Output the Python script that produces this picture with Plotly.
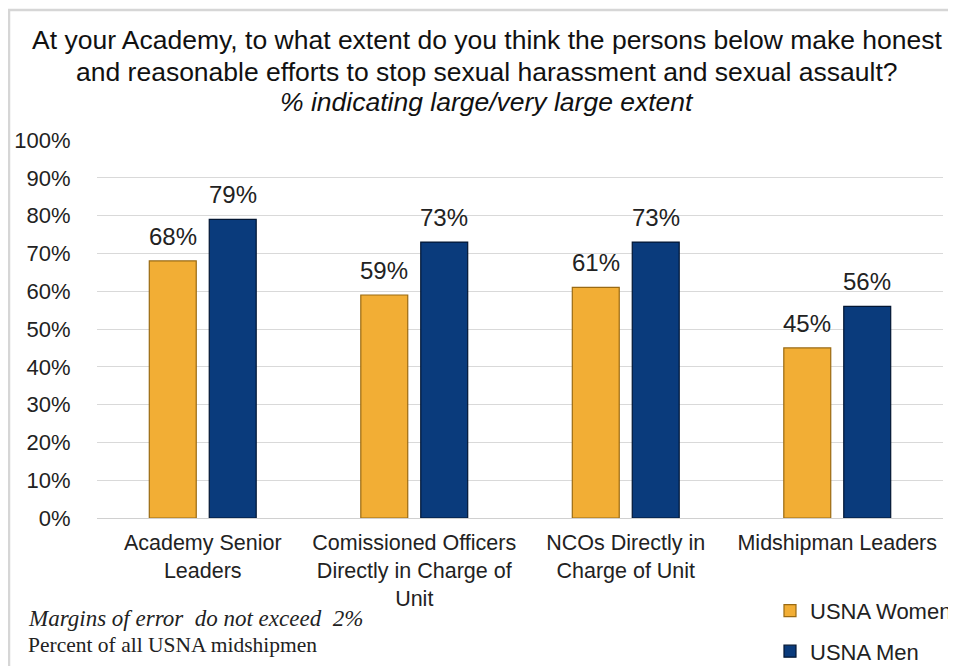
import plotly.graph_objects as go

categories = ["Academy Senior<br>Leaders",
              "Comissioned Officers<br>Directly in Charge of<br>Unit",
              "NCOs Directly in<br>Charge of Unit",
              "Midshipman Leaders"]
women = [68, 59, 61, 45]
men = [79, 73, 73, 56]
series_names = ["USNA Women", "USNA Men"]
y_ticks = list(range(0, 101, 10))
y_tick_labels = [f"{v}%" for v in y_ticks]

GOLD = "#F2AE35"
NAVY = "#0A3B7C"
FONT = "Liberation Sans"

fig = go.Figure()
fig.add_trace(go.Bar(x=categories, y=women, name=series_names[0],
                     marker=dict(color=GOLD, line=dict(color="#9A6A12", width=1.2)),
                     legendgroup="w"))
fig.add_trace(go.Bar(x=categories, y=men, name=series_names[1],
                     marker=dict(color=NAVY, line=dict(color="#021633", width=1.2)),
                     legendgroup="m"))

annotations = []
for c, v in zip(categories, women):
    annotations.append(dict(x=c, y=v, xref="x", yref="y", text=f"{v}%", showarrow=False,
                            yanchor="bottom", yshift=9, xshift=-30,
                            font=dict(size=24, color="#222222", family=FONT)))
for c, v in zip(categories, men):
    annotations.append(dict(x=c, y=v, xref="x", yref="y", text=f"{v}%", showarrow=False,
                            yanchor="bottom", yshift=9, xshift=30,
                            font=dict(size=24, color="#222222", family=FONT)))

# title
annotations += [
    dict(xref="paper", yref="paper", x=0.461, y=1.0, yshift=100, yanchor="middle",
         text="At your Academy, to what extent do you think the persons below make honest",
         showarrow=False, font=dict(size=26.5, family=FONT, color="#111111")),
    dict(xref="paper", yref="paper", x=0.461, y=1.0, yshift=68, yanchor="middle",
         text="and reasonable efforts to stop sexual harassment and sexual assault?",
         showarrow=False, font=dict(size=26.5, family=FONT, color="#111111")),
    dict(xref="paper", yref="paper", x=0.461, y=1.0, yshift=38, yanchor="middle",
         text="<i>% indicating large/very large extent</i>",
         showarrow=False, font=dict(size=26.5, family=FONT, color="#111111")),
    dict(xref="paper", yref="paper", x=0, xshift=-71, xanchor="left", y=0, yshift=-100, yanchor="middle",
         text="<i>Margins of error  do not exceed  2%</i>",
         showarrow=False, font=dict(size=23, family="Liberation Serif", color="#222222")),
    dict(xref="paper", yref="paper", x=0, xshift=-71, xanchor="left", y=0, yshift=-127, yanchor="middle",
         text="Percent of all USNA midshipmen",
         showarrow=False, font=dict(size=21.5, family="Liberation Serif", color="#222222")),
]

fig.update_layout(
    width=956, height=666,
    margin=dict(l=89, r=21, t=132, b=156, autoexpand=False),
    paper_bgcolor="white", plot_bgcolor="white",
    barmode="group", bargap=0.433, bargroupgap=0.217,
    annotations=annotations,
    showlegend=True,
    legend=dict(x=0.7955, xanchor="left", y=-0.19, yanchor="top",
                font=dict(size=22, family=FONT, color="#222222"),
                tracegroupgap=9, itemwidth=30, bgcolor="rgba(0,0,0,0)"),
    font=dict(family=FONT, color="#222222"),
    shapes=[dict(type="rect", xref="paper", yref="paper",
                 x0=-88/846, x1=1.2, y0=-0.5, y1=1.0 + 130/378,
                 line=dict(color="#D6D6D6", width=2.5), fillcolor="rgba(0,0,0,0)", layer="below")],
)
fig.update_yaxes(range=[0, 100], tickvals=y_ticks, ticktext=y_tick_labels,
                 showgrid=True, gridcolor="#D9D9D9", gridwidth=1,
                 zeroline=False, showline=False,
                 tickfont=dict(size=22, family=FONT, color="#222222"),
                 ticks="outside", ticklen=21, tickcolor="rgba(0,0,0,0)")
fig.update_xaxes(showline=True, linecolor="#D0D0D0", linewidth=1,
                 tickfont=dict(size=21.5, family=FONT, color="#222222"),
                 ticks="outside", ticklen=5, tickcolor="rgba(0,0,0,0)")

fig.write_html("out.html")
